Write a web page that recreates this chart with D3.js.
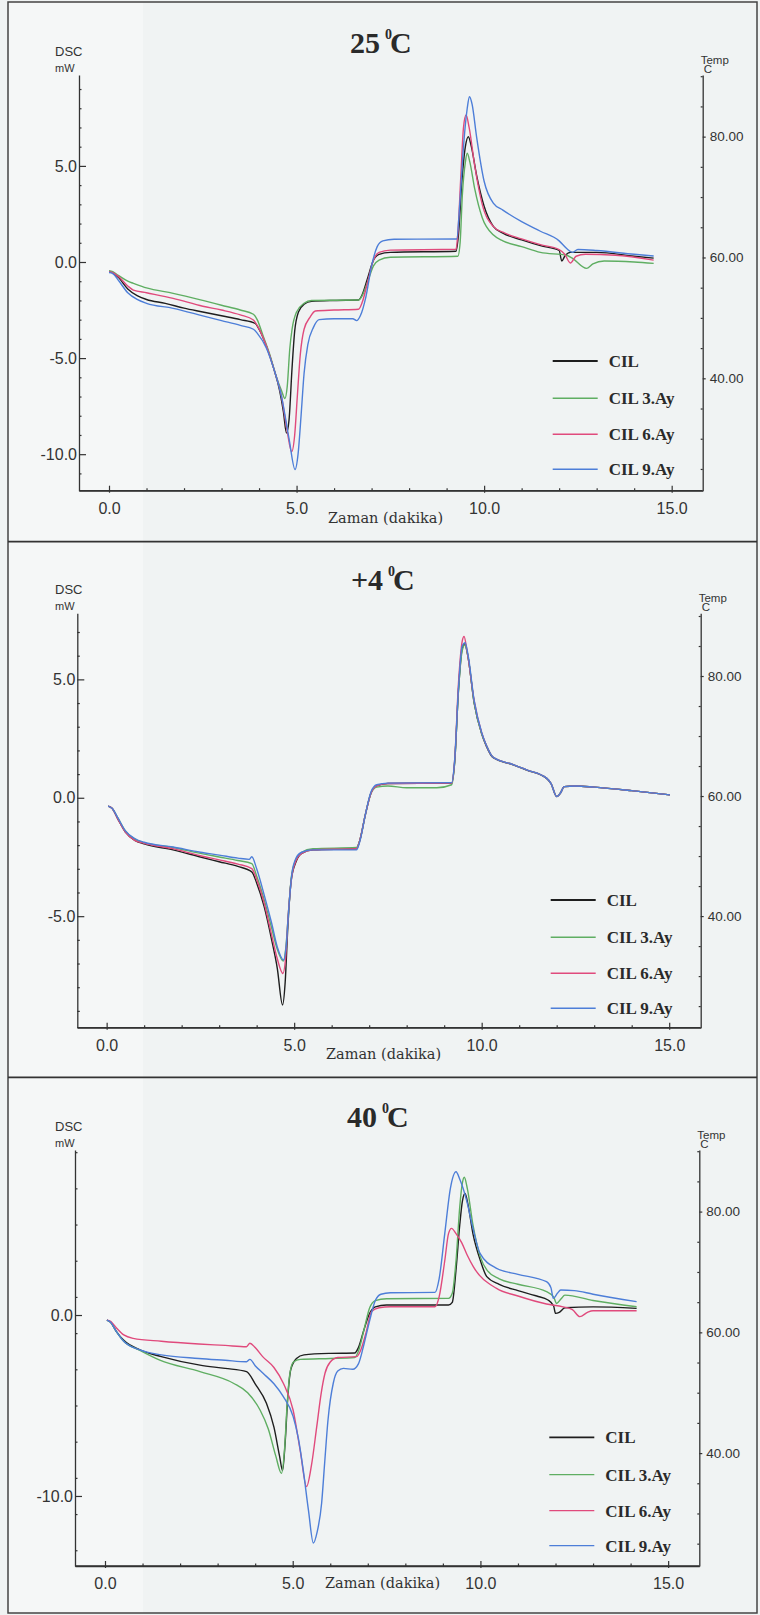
<!DOCTYPE html>
<html>
<head>
<meta charset="utf-8">
<script src="https://cdn.jsdelivr.net/npm/d3@7"></script>
<style>
  html, body { margin: 0; padding: 0; background: #f0f3f3; }
  svg { display: block; }
</style>
</head>
<body>
<svg id="chart" width="760" height="1615"></svg>
<script>
// ---- Series definitions -------------------------------------------------
const seriesNames  = ["CIL", "CIL 3.Ay", "CIL 6.Ay", "CIL 9.Ay"];
const seriesColors = ["#1e1e1e", "#5fae62", "#e04a7c", "#4d7ed8"];

// ---- Tick labels ----------------------------------------------------------
const timeTicks        = [0, 5, 10, 15];
const timeTickLabels   = ["0.0", "5.0", "10.0", "15.0"];
const tempTicks        = [40, 60, 80];
const tempTickLabels   = ["40.00", "60.00", "80.00"];
const dscTicks25       = [-10, -5, 0, 5];
const dscTickLabels25  = ["-10.0", "-5.0", "0.0", "5.0"];
const dscTicks4        = [-5, 0, 5];
const dscTickLabels4   = ["-5.0", "0.0", "5.0"];
const dscTicks40       = [-10, 0];
const dscTickLabels40  = ["-10.0", "0.0"];

// ---- DSC curves, [time (min), heat flow (mW)] -----------------------------
// 25 °C storage
const cil_25 = [[0.0,-0.5],[0.1,-0.55],[0.25,-0.8],[0.5,-1.4],[0.75,-1.75],[1.0,-1.95],[1.5,-2.15],[2.0,-2.4],[2.5,-2.6],[3.0,-2.8],[3.5,-3.0],[3.9,-3.2],[4.0,-3.5],[4.2,-4.4],[4.4,-5.6],[4.55,-6.7],[4.65,-7.8],[4.73,-8.9],[4.8,-8.2],[4.88,-5.5],[4.95,-3.6],[5.05,-2.6],[5.2,-2.2],[5.4,-2.05],[6.0,-2.0],[6.65,-1.98],[6.75,-1.7],[6.9,-0.8],[7.05,0.1],[7.2,0.4],[7.5,0.5],[9.25,0.56],[9.32,1.5],[9.4,4.0],[9.5,6.0],[9.58,6.52],[9.66,6.0],[9.8,4.5],[10.0,2.9],[10.25,1.84],[10.5,1.5],[11.0,1.15],[11.5,0.85],[12.0,0.6],[12.07,0.05],[12.15,0.3],[12.3,0.5],[13.0,0.5],[14.0,0.3],[14.52,0.2]];
const cil3_25 = [[0.0,-0.45],[0.1,-0.5],[0.25,-0.7],[0.5,-1.0],[0.65,-1.11],[1.0,-1.35],[1.71,-1.63],[2.5,-2.0],[3.0,-2.25],[3.5,-2.5],[3.85,-2.72],[3.95,-3.0],[4.1,-3.8],[4.3,-4.9],[4.45,-5.9],[4.6,-6.7],[4.69,-7.1],[4.75,-6.5],[4.82,-4.5],[4.88,-3.5],[5.0,-2.6],[5.2,-2.15],[5.4,-2.0],[6.65,-1.98],[6.75,-1.75],[6.9,-1.0],[7.05,-0.2],[7.2,0.1],[7.5,0.25],[9.3,0.3],[9.36,1.0],[9.42,3.5],[9.5,5.2],[9.55,5.66],[9.62,5.2],[9.75,3.8],[9.95,2.3],[10.25,1.4],[10.5,1.1],[11.0,0.8],[11.5,0.5],[12.2,0.35],[12.35,0.2],[12.73,-0.33],[12.9,-0.1],[13.2,0.05],[14.0,0.0],[14.52,-0.07]];
const cil6_25 = [[0.0,-0.5],[0.1,-0.55],[0.25,-0.75],[0.5,-1.25],[0.65,-1.46],[1.0,-1.6],[1.71,-1.89],[2.5,-2.3],[3.0,-2.5],[3.5,-2.75],[3.85,-3.02],[3.95,-3.3],[4.2,-4.4],[4.4,-5.6],[4.6,-7.0],[4.75,-8.8],[4.87,-9.87],[4.95,-9.0],[5.02,-7.0],[5.1,-4.8],[5.2,-3.5],[5.35,-2.9],[5.5,-2.55],[6.0,-2.5],[6.65,-2.46],[6.75,-2.1],[6.9,-1.0],[7.05,0.1],[7.2,0.5],[7.5,0.62],[9.25,0.66],[9.3,1.5],[9.38,4.5],[9.45,7.0],[9.52,7.65],[9.6,7.0],[9.75,5.0],[9.95,3.0],[10.25,1.84],[10.5,1.55],[11.0,1.2],[11.5,0.9],[12.0,0.65],[12.15,0.4],[12.3,-0.05],[12.45,0.3],[12.7,0.4],[13.5,0.35],[14.52,0.1]];
const cil9_25 = [[0.0,-0.55],[0.1,-0.6],[0.25,-0.95],[0.5,-1.6],[0.75,-1.95],[1.0,-2.15],[1.71,-2.41],[2.5,-2.8],[3.0,-3.05],[3.5,-3.3],[3.85,-3.5],[3.95,-3.7],[4.2,-4.5],[4.4,-5.6],[4.6,-7.0],[4.8,-9.2],[4.96,-10.8],[5.04,-10.0],[5.12,-8.0],[5.2,-5.8],[5.3,-4.3],[5.45,-3.4],[5.6,-3.0],[6.0,-2.95],[6.5,-2.95],[6.6,-3.05],[6.7,-2.8],[6.85,-1.8],[7.0,-0.2],[7.15,0.8],[7.3,1.1],[7.6,1.18],[9.27,1.2],[9.35,3.0],[9.45,6.0],[9.55,8.0],[9.61,8.6],[9.68,8.2],[9.8,6.5],[10.0,4.2],[10.25,3.05],[10.5,2.7],[11.0,2.1],[11.5,1.6],[12.0,1.1],[12.2,0.7],[12.35,0.5],[12.5,0.65],[13.0,0.6],[14.0,0.4],[14.52,0.31]];

// +4 °C storage
const cil_4 = [[0.04,-0.35],[0.15,-0.45],[0.3,-0.9],[0.5,-1.45],[0.75,-1.8],[1.0,-1.95],[1.77,-2.2],[2.5,-2.5],[3.0,-2.7],[3.5,-2.9],[3.87,-3.13],[4.0,-3.6],[4.2,-4.6],[4.4,-6.0],[4.55,-7.2],[4.69,-8.75],[4.76,-7.8],[4.83,-5.5],[4.92,-3.5],[5.05,-2.7],[5.2,-2.35],[5.5,-2.2],[6.66,-2.15],[6.75,-1.8],[6.9,-0.7],[7.05,0.2],[7.2,0.5],[7.5,0.6],[9.2,0.62],[9.28,1.5],[9.38,4.5],[9.48,6.3],[9.55,6.5],[9.63,6.0],[9.8,4.0],[10.0,2.7],[10.13,2.16],[10.3,1.7],[10.84,1.39],[11.2,1.17],[11.73,0.82],[11.85,0.6],[12.0,0.05],[12.1,0.2],[12.2,0.47],[12.5,0.5],[13.0,0.45],[14.0,0.3],[15.02,0.12]];
const cil3_4 = [[0.04,-0.35],[0.15,-0.45],[0.3,-0.85],[0.5,-1.4],[0.75,-1.75],[1.0,-1.9],[1.77,-2.1],[2.5,-2.35],[3.0,-2.5],[3.5,-2.65],[3.87,-2.78],[4.0,-3.3],[4.2,-4.3],[4.4,-5.5],[4.55,-6.4],[4.71,-6.9],[4.78,-6.3],[4.85,-4.8],[4.93,-3.3],[5.05,-2.6],[5.2,-2.3],[5.5,-2.15],[6.66,-2.1],[6.75,-1.8],[6.9,-0.7],[7.05,0.2],[7.2,0.45],[7.5,0.5],[8.0,0.42],[8.8,0.42],[9.2,0.55],[9.28,1.5],[9.38,4.5],[9.48,6.2],[9.55,6.45],[9.63,6.0],[9.8,4.0],[10.0,2.7],[10.13,2.2],[10.3,1.72],[10.84,1.4],[11.2,1.18],[11.73,0.83],[11.85,0.6],[12.0,0.06],[12.1,0.2],[12.2,0.47],[12.5,0.5],[13.0,0.45],[14.0,0.3],[15.02,0.12]];
const cil6_4 = [[0.04,-0.35],[0.15,-0.45],[0.3,-0.9],[0.5,-1.45],[0.75,-1.8],[1.0,-1.92],[1.77,-2.15],[2.5,-2.45],[3.0,-2.62],[3.5,-2.8],[3.87,-2.99],[4.0,-3.45],[4.2,-4.45],[4.4,-5.8],[4.55,-6.8],[4.7,-7.42],[4.77,-6.8],[4.84,-5.0],[4.93,-3.4],[5.05,-2.65],[5.2,-2.35],[5.5,-2.2],[6.66,-2.15],[6.75,-1.8],[6.9,-0.7],[7.05,0.2],[7.2,0.5],[7.5,0.6],[9.2,0.62],[9.28,1.6],[9.38,4.8],[9.48,6.6],[9.53,6.81],[9.61,6.2],[9.8,4.1],[10.0,2.75],[10.13,2.2],[10.3,1.72],[10.84,1.4],[11.2,1.18],[11.73,0.83],[11.85,0.6],[12.0,0.05],[12.1,0.2],[12.2,0.47],[12.5,0.5],[13.0,0.45],[14.0,0.3],[15.02,0.12]];
const cil9_4 = [[0.04,-0.35],[0.15,-0.45],[0.3,-0.85],[0.5,-1.4],[0.75,-1.72],[1.0,-1.88],[1.77,-2.08],[2.5,-2.3],[3.0,-2.42],[3.5,-2.55],[3.8,-2.6],[3.87,-2.49],[4.0,-3.0],[4.2,-4.1],[4.4,-5.3],[4.55,-6.3],[4.72,-6.85],[4.79,-6.2],[4.86,-4.6],[4.94,-3.2],[5.05,-2.55],[5.2,-2.3],[5.5,-2.2],[6.66,-2.2],[6.75,-1.85],[6.9,-0.7],[7.05,0.25],[7.2,0.55],[7.5,0.62],[9.2,0.64],[9.28,1.6],[9.38,4.6],[9.48,6.4],[9.56,6.55],[9.64,6.0],[9.8,4.1],[10.0,2.75],[10.13,2.2],[10.3,1.72],[10.84,1.4],[11.2,1.18],[11.73,0.83],[11.85,0.6],[12.0,0.05],[12.1,0.2],[12.2,0.47],[12.5,0.5],[13.0,0.45],[14.0,0.3],[15.02,0.12]];

// 40 °C storage
const cil_40 = [[0.05,-0.28],[0.15,-0.4],[0.3,-0.9],[0.5,-1.4],[0.93,-1.93],[1.5,-2.3],[2.53,-2.77],[3.2,-2.95],[3.77,-3.13],[4.0,-3.8],[4.3,-4.88],[4.5,-6.2],[4.65,-7.8],[4.73,-8.6],[4.8,-7.0],[4.87,-4.5],[4.95,-3.0],[5.1,-2.4],[5.3,-2.2],[6.0,-2.12],[6.65,-2.1],[6.75,-1.8],[6.9,-0.8],[7.05,0.1],[7.2,0.45],[7.5,0.55],[9.15,0.55],[9.25,0.7],[9.35,2.5],[9.45,5.0],[9.52,6.3],[9.59,6.72],[9.66,6.2],[9.8,4.5],[10.0,3.0],[10.17,2.12],[10.5,1.7],[11.0,1.35],[11.5,1.05],[11.8,0.83],[11.95,0.5],[12.0,0.09],[12.1,0.15],[12.25,0.4],[13.0,0.45],[14.16,0.37]];
const cil3_40 = [[0.05,-0.28],[0.15,-0.4],[0.3,-0.9],[0.5,-1.45],[0.93,-1.95],[1.46,-2.49],[2.53,-3.13],[3.42,-3.77],[3.8,-4.3],[4.13,-5.25],[4.35,-6.3],[4.55,-7.8],[4.7,-8.75],[4.78,-7.5],[4.85,-5.0],[4.92,-3.3],[5.02,-2.6],[5.2,-2.45],[6.0,-2.4],[6.65,-2.35],[6.75,-2.0],[6.9,-0.8],[7.05,0.4],[7.2,0.8],[7.5,0.9],[9.15,0.92],[9.25,1.2],[9.35,3.0],[9.45,6.0],[9.52,7.3],[9.57,7.61],[9.65,7.0],[9.8,5.0],[10.0,3.2],[10.17,2.49],[10.5,2.0],[11.0,1.7],[11.76,1.29],[11.95,1.0],[12.03,0.64],[12.15,0.9],[12.25,1.1],[13.0,0.8],[14.16,0.46]];
const cil6_40 = [[0.05,-0.28],[0.15,-0.35],[0.3,-0.7],[0.5,-1.1],[0.75,-1.29],[1.5,-1.45],[2.5,-1.6],[3.2,-1.68],[3.77,-1.75],[3.86,-1.56],[4.0,-1.8],[4.2,-2.3],[4.5,-2.9],[4.75,-3.77],[5.01,-5.25],[5.2,-7.5],[5.37,-9.48],[5.5,-8.3],[5.64,-6.17],[5.76,-4.3],[5.86,-3.22],[6.0,-2.6],[6.2,-2.35],[6.7,-2.3],[6.8,-2.0],[6.95,-1.0],[7.1,0.2],[7.3,0.4],[7.6,0.46],[8.79,0.46],[8.9,1.0],[9.05,3.0],[9.15,4.5],[9.23,4.79],[9.35,4.5],[9.5,4.0],[9.65,3.3],[9.81,2.67],[10.43,1.47],[11.0,1.05],[11.76,0.61],[12.2,0.45],[12.45,0.3],[12.65,-0.09],[12.85,0.15],[13.0,0.24],[14.16,0.24]];
const cil9_40 = [[0.05,-0.28],[0.15,-0.4],[0.3,-0.9],[0.5,-1.45],[0.93,-1.93],[1.5,-2.2],[2.5,-2.4],[3.2,-2.5],[3.77,-2.58],[3.86,-2.45],[4.0,-2.8],[4.21,-3.22],[4.5,-3.8],[4.75,-4.51],[5.01,-5.6],[5.15,-6.8],[5.28,-8.56],[5.42,-10.8],[5.55,-12.6],[5.65,-12.0],[5.77,-10.4],[5.85,-8.2],[5.94,-5.8],[6.08,-3.77],[6.2,-3.1],[6.35,-2.95],[6.6,-3.0],[6.75,-2.7],[6.9,-1.6],[7.05,-0.3],[7.2,0.8],[7.35,1.15],[7.6,1.23],[8.79,1.25],[8.9,2.0],[9.05,4.5],[9.2,7.0],[9.35,7.92],[9.45,7.5],[9.63,6.35],[9.8,4.8],[9.99,3.41],[10.43,2.58],[11.0,2.25],[11.76,1.84],[11.88,1.5],[11.94,0.92],[12.05,1.2],[12.14,1.38],[12.5,1.35],[13.0,1.15],[14.16,0.74]];

// ---- Panel layout ---------------------------------------------------------
const panels = [
  { title: "25", series: [cil_25, cil3_25, cil6_25, cil9_25],
    dscTicks: dscTicks25, dscLabels: dscTickLabels25, dscMinor: 1,
    left: 79, right: 702.7, top: 75, bottom: 490.7,
    xDomain: [-0.8, 15.827], yDomain: [-11.9, 9.73], tDomain: [21.4, 90.2],
    titleX: 350, titleY: 53, xLabelX: 328, xLabelDy: 32,
    legendX: 552.7, legendY: 361 },
  { title: "+4", series: [cil_4, cil3_4, cil6_4, cil9_4],
    dscTicks: dscTicks4, dscLabels: dscTickLabels4, dscMinor: 1,
    left: 77.3, right: 700.7, top: 613.3, bottom: 1027.7,
    xDomain: [-0.7825, 15.84], yDomain: [-9.71, 7.79], tDomain: [21.4, 90.45],
    titleX: 351, titleY: 590, xLabelX: 326, xLabelDy: 31,
    legendX: 550.7, legendY: 900 },
  { title: "40", series: [cil_40, cil3_40, cil6_40, cil9_40],
    dscTicks: dscTicks40, dscLabels: dscTickLabels40, dscMinor: 2,
    left: 75, right: 699.3, top: 1150, bottom: 1566,
    xDomain: [-0.799, 15.83], yDomain: [-13.87, 9.12], tDomain: [21.3, 90.2],
    titleX: 347, titleY: 1127, xLabelX: 325, xLabelDy: 22,
    legendX: 549.3, legendY: 1437.3 }
];

const svg = d3.select("#chart");
const axisColor = "#333";
const sans = "'Liberation Sans', Arial, sans-serif";
const serif = "'Liberation Serif', 'Times New Roman', serif";

// Slightly lighter paper along the left margin
svg.append("rect").attr("x", 8).attr("y", 2).attr("width", 135).attr("height", 1611)
  .attr("fill", "#f5f7f7");

// Outer frame and panel separators
svg.append("rect").attr("x", 8).attr("y", 2).attr("width", 749).attr("height", 1611)
  .attr("fill", "none").attr("stroke", "#444").attr("stroke-width", 1.5);
[541.7, 1077.3].forEach(y => {
  svg.append("line").attr("x1", 8).attr("x2", 757).attr("y1", y).attr("y2", y)
    .attr("stroke", "#333").attr("stroke-width", 1.8);
});

panels.forEach((p, pi) => {
  const g = svg.append("g");
  const x = d3.scaleLinear().domain(p.xDomain).range([p.left, p.right]);
  const y = d3.scaleLinear().domain(p.yDomain).range([p.bottom, p.top]);
  const yT = d3.scaleLinear().domain(p.tDomain).range([p.bottom, p.top]);

  const styleAxis = sel => {
    sel.select(".domain").attr("stroke", axisColor).attr("stroke-width", 1.3);
    sel.selectAll(".tick line").attr("stroke", axisColor).attr("stroke-width", 1.2);
    sel.selectAll(".tick text").attr("fill", "#333").attr("font-family", sans);
  };

  // --- bottom (time) axis: minor ticks every minute, labelled every 5
  const xMinor = d3.range(0, 16, 1).filter(v => v % 5 !== 0);
  g.append("g").attr("transform", `translate(0,${p.bottom})`)
    .call(d3.axisTop(x).tickValues(xMinor).tickSize(2.5).tickFormat("").tickSizeOuter(0))
    .call(sel => { sel.select(".domain").remove(); styleAxis(sel); });
  g.append("g").attr("transform", `translate(0,${p.bottom})`)
    .call(d3.axisBottom(x).tickValues(timeTicks).tickSize(0).tickPadding(12)
      .tickFormat((d, i) => timeTickLabels[i]).tickSizeOuter(0))
    .call(styleAxis)
    .call(sel => sel.selectAll(".tick text").attr("font-size", 16))
    .call(sel => sel.selectAll(".tick").append("line")
      .attr("y1", -5).attr("y2", 2).attr("stroke", axisColor).attr("stroke-width", 1.2));

  // --- left (DSC) axis
  const yMinor = d3.range(Math.ceil(p.yDomain[0]), p.yDomain[1], p.dscMinor)
    .filter(v => !p.dscTicks.includes(v));
  g.append("g").attr("transform", `translate(${p.left},0)`)
    .call(d3.axisRight(y).tickValues(yMinor).tickSize(2.5).tickFormat("").tickSizeOuter(0))
    .call(sel => { sel.select(".domain").remove(); styleAxis(sel); });
  g.append("g").attr("transform", `translate(${p.left},0)`)
    .call(d3.axisLeft(y).tickValues(p.dscTicks).tickSize(0).tickPadding(2)
      .tickFormat((d, i) => p.dscLabels[i]).tickSizeOuter(0))
    .call(styleAxis)
    .call(sel => sel.selectAll(".tick text").attr("font-size", 16))
    .call(sel => sel.selectAll(".tick").append("line")
      .attr("x1", 0).attr("x2", 7).attr("stroke", axisColor).attr("stroke-width", 1.2));

  // --- right (temperature) axis
  const tMinor = d3.range(25, 91, 5).filter(v => !tempTicks.includes(v));
  g.append("g").attr("transform", `translate(${p.right},0)`)
    .call(d3.axisLeft(yT).tickValues(tMinor).tickSize(2).tickFormat("").tickSizeOuter(0))
    .call(sel => { sel.select(".domain").remove(); styleAxis(sel); });
  g.append("g").attr("transform", `translate(${p.right},0)`)
    .call(d3.axisRight(yT).tickValues(tempTicks).tickSize(3).tickPadding(4)
      .tickFormat((d, i) => tempTickLabels[i]).tickSizeOuter(0))
    .call(styleAxis)
    .call(sel => sel.selectAll(".tick text").attr("font-size", 13.5));

  // bottom axis baseline spans the full plot width
  g.append("line").attr("x1", p.left).attr("x2", p.right)
    .attr("y1", p.bottom).attr("y2", p.bottom)
    .attr("stroke", axisColor).attr("stroke-width", 1.3);

  // --- axis captions
  g.append("text").attr("x", 55).attr("y", p.top - 19)
    .attr("font-family", sans).attr("font-size", 13).attr("fill", "#333").text("DSC");
  g.append("text").attr("x", 55).attr("y", p.top - 3)
    .attr("font-family", sans).attr("font-size", 11).attr("fill", "#333").text("mW");
  g.append("text").attr("x", p.right - 2).attr("y", p.top - 11)
    .attr("font-family", sans).attr("font-size", 11.5).attr("fill", "#333").text("Temp");
  g.append("text").attr("x", p.right + 1).attr("y", p.top - 2)
    .attr("font-family", sans).attr("font-size", 11.5).attr("fill", "#333").text("C");
  g.append("text").attr("x", p.xLabelX).attr("y", p.bottom + p.xLabelDy)
    .attr("font-family", "'DejaVu Serif', serif").attr("font-size", 14.5).attr("fill", "#333")
    .text("Zaman (dakika)");

  // --- panel title, e.g. 25 ⁰C
  const title = g.append("text").attr("x", p.titleX).attr("y", p.titleY)
    .attr("font-family", serif).attr("font-weight", "bold").attr("font-size", 30).attr("fill", "#2a2a2a");
  title.append("tspan").text(p.title);
  title.append("tspan").attr("dx", 5).attr("dy", -14).attr("font-size", 14).text("0");
  title.append("tspan").attr("dx", -2).attr("dy", 14).text("C");

  // --- curves
  const clipId = `plot-clip-${pi}`;
  g.append("clipPath").attr("id", clipId).append("rect")
    .attr("x", p.left).attr("y", p.top).attr("width", p.right - p.left).attr("height", p.bottom - p.top);
  const line = d3.line().x(d => x(d[0])).y(d => y(d[1])).curve(d3.curveMonotoneX);
  const curves = g.append("g").attr("clip-path", `url(#${clipId})`);
  p.series.forEach((s, si) => {
    curves.append("path").datum(s).attr("d", line)
      .attr("fill", "none").attr("stroke", seriesColors[si]).attr("stroke-width", 1.4)
      .attr("stroke-linejoin", "round");
  });

  // --- legend
  const rowGap = [0, 37.3, 73.3, 108.3];
  seriesNames.forEach((name, si) => {
    const ly = p.legendY + rowGap[si];
    g.append("line").attr("x1", p.legendX).attr("x2", p.legendX + 45)
      .attr("y1", ly).attr("y2", ly)
      .attr("stroke", seriesColors[si]).attr("stroke-width", si === 0 ? 1.8 : 1.4);
    g.append("text").attr("x", p.legendX + 56).attr("y", ly + 6)
      .attr("font-family", serif).attr("font-weight", "bold").attr("font-size", 17)
      .attr("fill", "#2a2a2a").text(name);
  });
});
</script>
</body>
</html>
